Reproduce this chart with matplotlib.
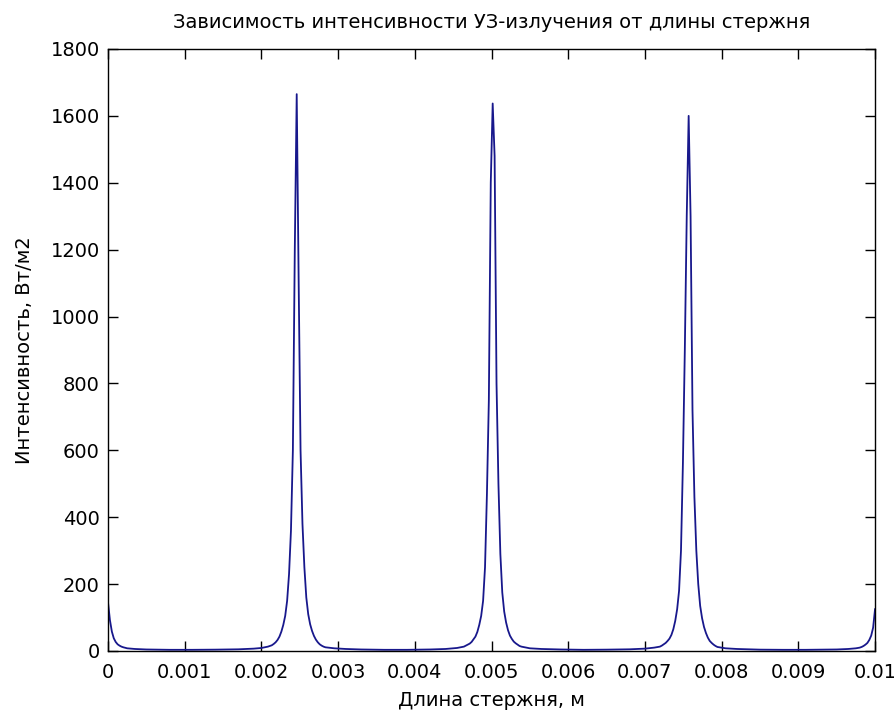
import matplotlib
matplotlib.use("Agg")
import matplotlib.pyplot as plt

plt.rcParams['font.family'] = ['DejaVu Sans']

# значения (длина стержня в м, интенсивность в Вт/м2)
length_m = [
    # начало
    0.0, 0.000025, 0.00005, 0.000075, 0.0001, 0.000125, 0.00015, 0.000175,
    0.0002, 0.00025, 0.00035, 0.0005, 0.0008, 0.0011, 0.0014, 0.0017,
    0.0019, 0.002,
    # пик 1
    0.002085, 0.00211, 0.002135, 0.00216, 0.002185, 0.00221, 0.002235,
    0.00226, 0.002285, 0.00231, 0.002335, 0.00236, 0.002385, 0.00241,
    0.002435, 0.00246, 0.002485, 0.00251, 0.002535, 0.00256, 0.002585,
    0.00261, 0.002635, 0.00266, 0.002685, 0.00271, 0.002735, 0.00276,
    0.002785, 0.00281, 0.002835,
    # между 1 и 2
    0.00295, 0.0031, 0.0033, 0.0036, 0.0039, 0.0042, 0.0044, 0.00455,
    # пик 2
    0.00464, 0.004665, 0.00469, 0.004715, 0.00474, 0.004765, 0.00479,
    0.004815, 0.00484, 0.004865, 0.00489, 0.004915, 0.00494, 0.004965,
    0.00499, 0.005015, 0.00504, 0.005065, 0.00509, 0.005115, 0.00514,
    0.005165, 0.00519, 0.005215, 0.00524, 0.005265, 0.00529, 0.005315,
    0.00534, 0.005365, 0.00539,
    # между 2 и 3
    0.0055, 0.00565, 0.0059, 0.0062, 0.0065, 0.0068, 0.007, 0.00712,
    # пик 3
    0.007195, 0.00722, 0.007245, 0.00727, 0.007295, 0.00732, 0.007345,
    0.00737, 0.007395, 0.00742, 0.007445, 0.00747, 0.007495, 0.00752,
    0.007545, 0.00757, 0.007595, 0.00762, 0.007645, 0.00767, 0.007695,
    0.00772, 0.007745, 0.00777, 0.007795, 0.00782, 0.007845, 0.00787,
    0.007895, 0.00792, 0.007945,
    # конец
    0.00805, 0.0082, 0.0085, 0.0088, 0.0091, 0.0093, 0.0095, 0.00965,
    0.00975, 0.0098, 0.009825, 0.00985, 0.009875, 0.0099, 0.009925,
    0.00995, 0.009975, 0.01,
]

intensity = [
    145, 92, 58, 38, 27, 20, 16, 13,
    11, 8, 6, 4.5, 3.5, 3.5, 4, 5,
    7, 9,
    13, 15, 17, 21, 26, 33, 43,
    58, 78, 105, 150, 230, 360, 600,
    1200, 1665, 1114, 600, 380, 250, 160,
    110, 80, 60, 45, 34, 26, 20,
    16, 13, 11,
    8, 6, 4.5, 3.5, 3.5, 4.5, 6, 9,
    13, 16, 19, 22, 27, 35, 43,
    57, 78, 105, 150, 250, 470, 750,
    1400, 1637, 1480, 800, 500, 290, 175,
    118, 85, 62, 46, 36, 28, 23,
    19, 15, 13,
    8, 6, 4.5, 3.5, 4, 5, 7, 10,
    13, 16, 20, 24, 30, 37, 48,
    65, 90, 125, 180, 300, 560, 900,
    1300, 1600, 1300, 720, 460, 300, 200,
    135, 98, 72, 54, 40, 30, 24,
    19, 15, 12,
    8, 6, 4, 3.5, 3.5, 4, 4.5, 6,
    8, 10, 12, 15, 19, 24, 33,
    46, 70, 125,
]

x_ticks = [0, 0.001, 0.002, 0.003, 0.004, 0.005, 0.006, 0.007, 0.008, 0.009, 0.01]
x_tick_labels = ['0', '0.001', '0.002', '0.003', '0.004', '0.005', '0.006',
                 '0.007', '0.008', '0.009', '0.01']
y_ticks = [0, 200, 400, 600, 800, 1000, 1200, 1400, 1600, 1800]

fig = plt.figure(figsize=(8.95, 7.12), dpi=100)
ax = fig.add_axes([0.1207, 0.0857, 0.857, 0.8455])

ax.plot(length_m, intensity, color='#18188c', linewidth=1.3)

ax.set_xlim(0, 0.01)
ax.set_ylim(0, 1800)
ax.set_xticks(x_ticks)
ax.set_xticklabels(x_tick_labels)
ax.set_yticks(y_ticks)

ax.tick_params(direction='in', length=7, width=1, top=True, right=True,
               labelsize=14, colors='black')
ax.tick_params(axis='x', pad=9)
ax.tick_params(axis='y', pad=6)
for s in ax.spines.values():
    s.set_linewidth(1.0)

ax.set_title('Зависимость интенсивности УЗ-излучения от длины стержня',
             fontsize=14, pad=15)
ax.set_xlabel('Длина стержня, м', fontsize=14, labelpad=6)
ax.set_ylabel('Интенсивность, Вт/м2', fontsize=14, labelpad=12)

fig.savefig('out.png', dpi=100, facecolor='white')
